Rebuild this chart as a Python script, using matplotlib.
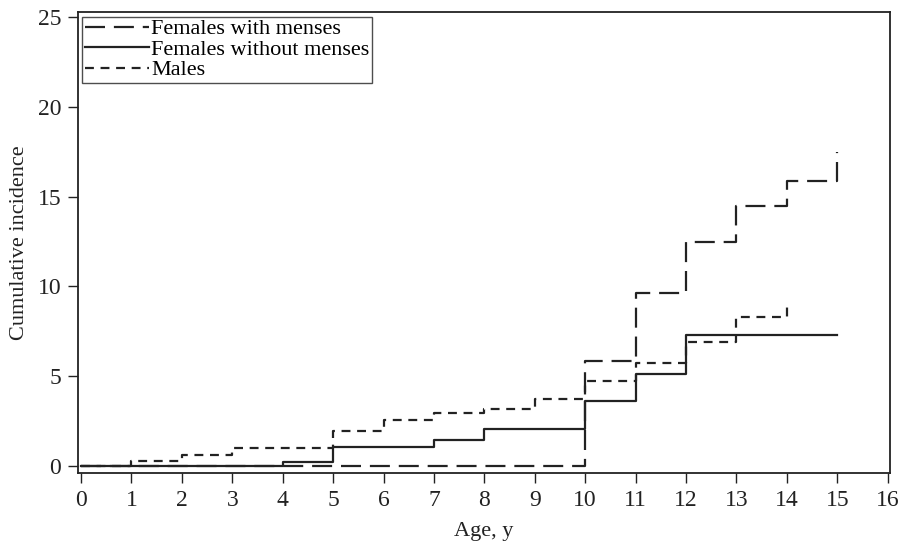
import matplotlib
matplotlib.use("Agg")
import matplotlib.pyplot as plt

plt.rcParams['font.family'] = ['Liberation Serif', 'DejaVu Serif']

# step data: value holds from age[i] to age[i+1]
age_with = [0, 10, 11, 12, 13, 14, 15, 15]
inc_with = [0, 5.85, 9.65, 12.5, 14.5, 15.9, 17.5, 17.5]

age_without = [0, 4, 5, 7, 8, 10, 11, 12, 15]
inc_without = [0, 0.2, 1.05, 1.45, 2.05, 3.6, 5.1, 7.3, 7.3]

age_males = [0, 1, 2, 3, 5, 6, 7, 8, 9, 10, 11, 12, 13, 14, 14]
inc_males = [0, 0.25, 0.6, 1.0, 1.95, 2.55, 2.95, 3.15, 3.75, 4.75, 5.75, 6.9, 8.3, 9.1, 9.1]

x_ticks = list(range(0, 17))
y_ticks = [0, 5, 10, 15, 20, 25]

fig = plt.figure(figsize=(9.01, 5.41), dpi=100)
ax = fig.add_axes([0.0866, 0.1257, 0.9014, 0.852])

ax.step(age_with, inc_with, where='post', color='#222222', lw=1.6,
        linestyle=(0, (9, 4)), label='Females with menses')
ax.step(age_without, inc_without, where='post', color='#222222', lw=1.6,
        linestyle='-', label='Females without menses')
ax.step(age_males, inc_males, where='post', color='#222222', lw=1.6,
        linestyle=(0, (4, 3)), label='Males')

ax.set_xlim(-0.06, 16.05)
ax.set_ylim(-0.4, 25.3)
ax.set_xticks(x_ticks)
ax.set_yticks(y_ticks)
ax.tick_params(direction='out', length=7, width=1, labelsize=17, colors='#222222', pad=5)
for s in ax.spines.values():
    s.set_linewidth(1.3)
    s.set_color('#222222')

ax.set_xlabel('Age, y', fontsize=16, labelpad=8, color='#222222')
ax.set_ylabel('Cumulative incidence', fontsize=16, labelpad=6, color='#222222')

leg = ax.legend(loc='upper left', fontsize=16, frameon=True, fancybox=False,
                borderaxespad=0.2, handlelength=2.9, handletextpad=0.1,
                labelspacing=0.0, borderpad=0.1)
leg.get_frame().set_edgecolor('#222222')
leg.get_frame().set_linewidth(1.0)

fig.savefig('out.png', dpi=100)
